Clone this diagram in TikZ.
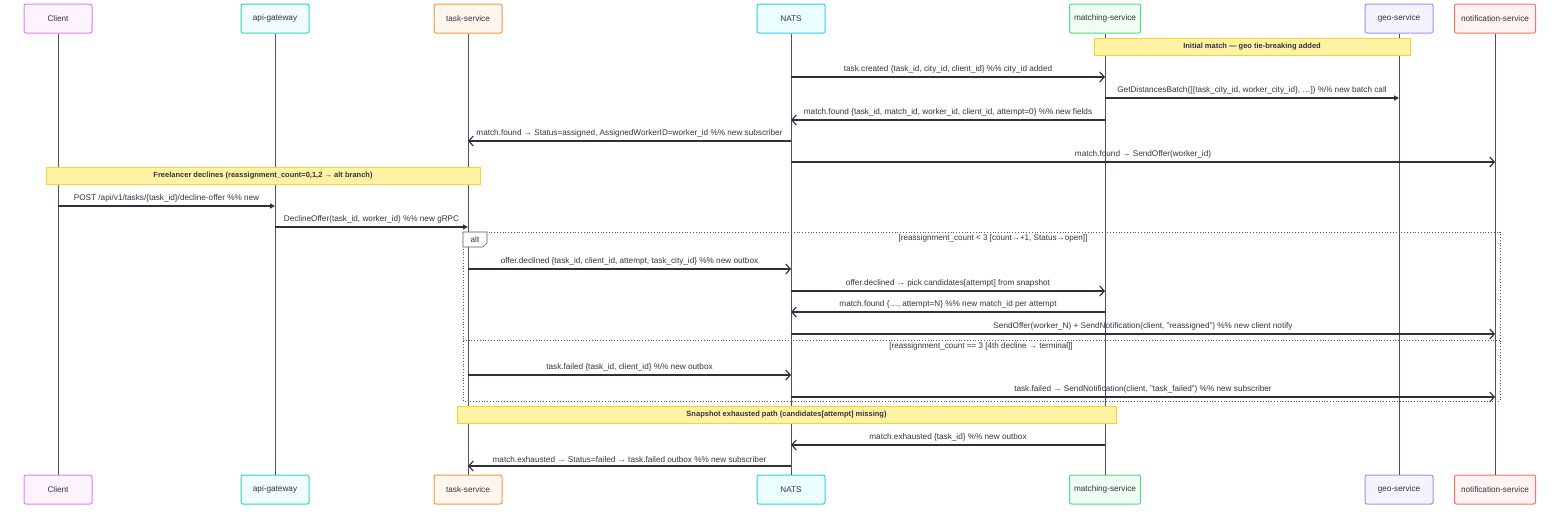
\documentclass[tikz,border=0pt]{standalone}
\usepackage{fontspec}
\setmainfont{Liberation Sans}
\usetikzlibrary{arrows.meta,positioning,calc}
\definecolor{textcol}{HTML}{333340}
\definecolor{linecol}{HTML}{2F2F42}
\definecolor{lifecol}{HTML}{50506A}
\definecolor{notefill}{HTML}{FEF3A4}
\definecolor{notedraw}{HTML}{F8D32E}
\definecolor{altcol}{HTML}{555566}
\tikzset{
  actor/.style={draw, rounded corners=2pt, minimum height=29pt, inner sep=0pt,
    line width=1pt, text=textcol, font=\fontsize{8.2}{10}\selectfont},
  lifeline/.style={draw=lifecol, line width=0.95pt},
  msg/.style={draw=linecol, line width=1.15pt, -{Straight Barb[length=4.5pt,width=10pt]}},
  call/.style={draw=linecol, line width=1.15pt, -{Triangle[length=5pt,width=5pt]}},
  msglabel/.style={midway, above=3pt, inner sep=0pt, text=textcol,
    font=\fontsize{8.2}{10}\selectfont},
  notebox/.style={draw=notedraw, fill=notefill, line width=0.9pt, inner sep=0pt,
    minimum height=17pt, text=textcol, font=\bfseries\fontsize{7.5}{9}\selectfont},
  guard/.style={inner sep=0pt, text=textcol, font=\fontsize{8.1}{10}\selectfont},
}
\begin{document}
\begin{tikzpicture}[x=1pt, y=-1pt]
\useasboundingbox (0,0) rectangle (1560,523);

% participants, top and bottom
\foreach \nm/\lbl/\px/\bw/\fcol/\dcol in {client/Client/58/68/FDF4FF/E879F9,
    api/api-gateway/275/68/F0FDFA/2DD4BF,
    task/task-service/468/68/FFF7ED/FB923C,
    nats/NATS/791/68/ECFEFF/22D3EE,
    match/matching-service/1105/71/F0FDF4/4ADE80,
    geo/geo-service/1399/68/F5F3FF/A78BFA,
    notif/notification-service/1495/81/FEF2F2/F87171} {
  \definecolor{boxfill}{HTML}{\fcol}\definecolor{boxdraw}{HTML}{\dcol}
  \node[actor, fill=boxfill, draw=boxdraw, minimum width=\bw] (\nm-top) at (\px,18.5) {\lbl};
  \node[actor, fill=boxfill, draw=boxdraw, minimum width=\bw] (\nm-bot) at (\px,489.5) {\lbl};
  \draw[lifeline] (\nm-top.south) -- (\nm-bot.north);
}

% message rows
\coordinate (r1) at (0,77);   \coordinate (r2) at (0,98);
\coordinate (r3) at (0,120);  \coordinate (r4) at (0,141);
\coordinate (r5) at (0,162);  \coordinate (r6) at (0,206);
\coordinate (r7) at (0,227);  \coordinate (r8) at (0,269);
\coordinate (r9) at (0,291);  \coordinate (r10) at (0,312);
\coordinate (r11) at (0,334); \coordinate (r12) at (0,375);
\coordinate (r13) at (0,397); \coordinate (r14) at (0,445);
\coordinate (r15) at (0,466);

% initial match
\node[notebox, minimum width=316] (n-init) at (1252,46.5) {Initial match — geo tie-breaking added};
\draw[msg] (nats-top |- r1) -- (match-top |- r1)
  node[msglabel]{task.created \{task\_id, city\_id, client\_id\} \%\% city\_id added};
\draw[call] (match-top |- r2) -- (geo-top |- r2)
  node[msglabel]{GetDistancesBatch([\{task\_city\_id, worker\_city\_id\}, …]) \%\% new batch call};
\draw[msg] (match-top |- r3) -- (nats-top |- r3)
  node[msglabel]{match.found \{task\_id, match\_id, worker\_id, client\_id, attempt=0\} \%\% new fields};
\draw[msg] (nats-top |- r4) -- (task-top |- r4)
  node[msglabel]{match.found → Status=assigned, AssignedWorkerID=worker\_id \%\% new subscriber};
\draw[msg] (nats-top |- r5) -- (notif-top |- r5)
  node[msglabel]{match.found → SendOffer(worker\_id)};

% decline
\node[notebox, minimum width=434] (n-decl) at (263,175.5) {Freelancer declines (reassignment\_count=0,1,2 → alt branch)};
\draw[call] (client-top |- r6) -- (api-top |- r6)
  node[msglabel]{POST /api/v1/tasks/\{task\_id\}/decline-offer \%\% new};
\draw[call] (api-top |- r7) -- (task-top |- r7)
  node[msglabel]{DeclineOffer(task\_id, worker\_id) \%\% new gRPC};

% alt block
\draw[altcol, dotted, line width=0.8pt] (463,232) rectangle (1500,401);
\draw[altcol, dotted, line width=0.8pt] (463,340) -- (1500,340);
\draw[altcol, fill=white, line width=0.6pt] (463,232) -- (487,232) -- (487,243) -- (483,247) -- (463,247) -- cycle;
\node[guard] (alt-lbl) at (475,240) {alt};
\node[guard] (g-open) at (993,238) {[reassignment\_count < 3 [count→+1, Status→open]]};
\node[guard] (g-term) at (981,346) {[reassignment\_count == 3 [4th decline → terminal]]};

\draw[msg] (task-top |- r8) -- (nats-top |- r8)
  node[msglabel]{offer.declined \{task\_id, client\_id, attempt, task\_city\_id\} \%\% new outbox};
\draw[msg] (nats-top |- r9) -- (match-top |- r9)
  node[msglabel]{offer.declined → pick candidates[attempt] from snapshot};
\draw[msg] (match-top |- r10) -- (nats-top |- r10)
  node[msglabel]{match.found \{…, attempt=N\} \%\% new match\_id per attempt};
\draw[msg] (nats-top |- r11) -- (notif-top |- r11)
  node[msglabel]{SendOffer(worker\_N) + SendNotification(client, "reassigned") \%\% new client notify};
\draw[msg] (task-top |- r12) -- (nats-top |- r12)
  node[msglabel]{task.failed \{task\_id, client\_id\} \%\% new outbox};
\draw[msg] (nats-top |- r13) -- (notif-top |- r13)
  node[msglabel]{task.failed → SendNotification(client, "task\_failed") \%\% new subscriber};

% exhausted snapshot
\node[notebox, minimum width=659] (n-exh) at (786.5,414.5) {Snapshot exhausted path (candidates[attempt] missing)};
\draw[msg] (match-top |- r14) -- (nats-top |- r14)
  node[msglabel]{match.exhausted \{task\_id\} \%\% new outbox};
\draw[msg] (nats-top |- r15) -- (task-top |- r15)
  node[msglabel]{match.exhausted → Status=failed → task.failed outbox \%\% new subscriber};
\end{tikzpicture}
\end{document}
